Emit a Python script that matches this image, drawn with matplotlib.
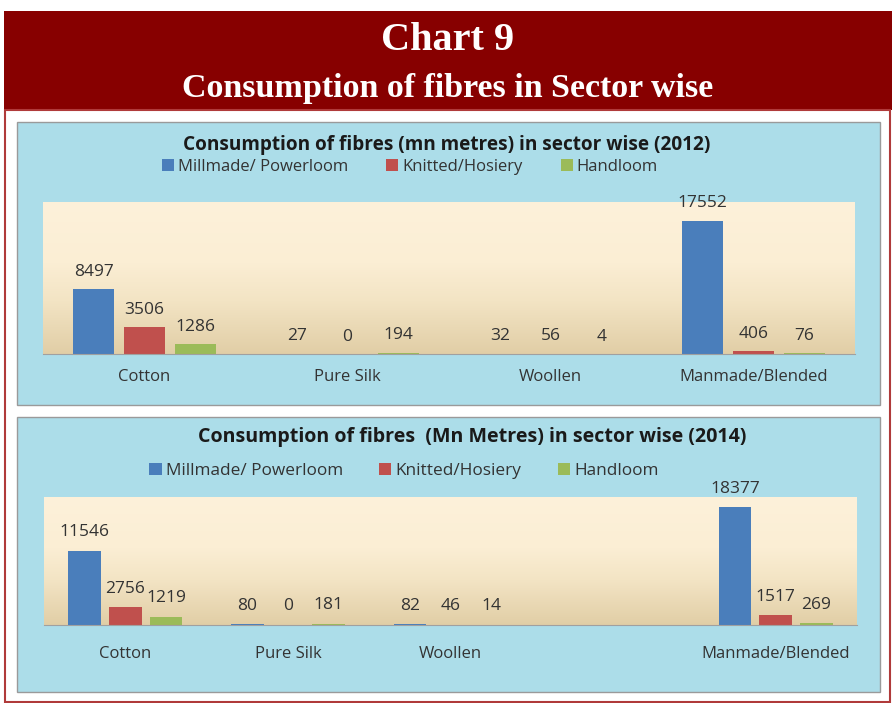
import numpy as np
import matplotlib.pyplot as plt
from matplotlib.patches import Rectangle
from matplotlib.colors import LinearSegmentedColormap

W, H = 892, 703

categories_2012 = ['Cotton', 'Pure Silk', 'Woollen', 'Manmade/Blended']
millmade_2012 = [8497, 27, 32, 17552]
knitted_2012 = [3506, 0, 56, 406]
handloom_2012 = [1286, 194, 4, 76]

# the 2014 chart has an empty category slot before Manmade/Blended
categories_2014 = ['Cotton', 'Pure Silk', 'Woollen', '', 'Manmade/Blended']
millmade_2014 = [11546, 80, 82, np.nan, 18377]
knitted_2014 = [2756, 0, 46, np.nan, 1517]
handloom_2014 = [1219, 181, 14, np.nan, 269]

series_names = ['Millmade/ Powerloom', 'Knitted/Hosiery', 'Handloom']
colors = ['#4a7ebb', '#c0504d', '#9bbb59']

plt.rcParams['font.family'] = ['Open Sans', 'DejaVu Sans']
txt_color = '#333333'


def px_box(x0, y0, x1, y1):
    return [x0 / W, 1 - y1 / H, (x1 - x0) / W, (y1 - y0) / H]


def fx(x):
    return x / W


def fy(y):
    return 1 - y / H


cream = LinearSegmentedColormap.from_list(
    'cream', [(0, '#e1cea6'), (0.35, '#f3e4c4'), (0.6, '#fbeed4'), (1, '#fdf1da')])
grad = np.linspace(1, 0, 256).reshape(-1, 1)

fig = plt.figure(figsize=(W / 100, H / 100), dpi=100)

# header band and outer frame
fig.patches.append(Rectangle((fx(4), fy(110)), (888) / W, 99 / H,
                             transform=fig.transFigure, facecolor='#870000',
                             edgecolor='none', zorder=-3))
fig.patches.append(Rectangle((fx(5), fy(702)), 885 / W, 592 / H,
                             transform=fig.transFigure, facecolor='white',
                             edgecolor='#b03a3a', lw=1.5, zorder=-3))
fig.text(fx(448), fy(40), 'Chart 9', color='white', fontsize=29,
         fontweight='bold', family='Liberation Serif', ha='center', va='center')
fig.text(fx(448), fy(88), 'Consumption of fibres in Sector wise', color='white',
         fontsize=24.5, fontweight='bold', family='Liberation Serif',
         ha='center', va='center')


def draw_panel(panel, plot, title, title_pos, title_size, legend_pos, leg_size,
               leg_gap, cats, series, label_off, tick_pad):
    x0, y0, x1, y1 = panel
    fig.patches.append(Rectangle((fx(x0), fy(y1)), (x1 - x0) / W, (y1 - y0) / H,
                                 transform=fig.transFigure, facecolor='#acdde9',
                                 edgecolor='#9a9a9a', lw=1, zorder=-2))
    fig.text(fx(title_pos[0]), fy(title_pos[1]), title, fontsize=title_size,
             fontweight='bold', color='#1a1a1a', ha='center', va='center')

    ax = fig.add_axes(px_box(*plot), zorder=2)
    ax.imshow(grad, extent=[0, 1, 0, 1], transform=ax.transAxes, aspect='auto',
              cmap=cream, zorder=0)
    x = np.arange(len(cats))
    for i, (vals, name, c) in enumerate(zip(series, series_names, colors)):
        pos = x + (i - 1) * 0.25
        ax.bar(pos, vals, width=0.2, color=c, label=name, zorder=2)
        for xi, v in zip(pos, vals):
            if np.isnan(v):
                continue
            ax.annotate(f'{v:.0f}', (xi, v), xytext=(0, label_off),
                        textcoords='offset points', ha='center', va='center',
                        fontsize=12.5, color=txt_color)
    ax.set_xlim(-0.5, len(cats) - 0.5)
    ax.set_ylim(0, 20000)
    ax.set_xticks(x)
    ax.set_xticklabels(cats, fontsize=12, color=txt_color)
    ax.tick_params(axis='x', length=0, pad=tick_pad)
    ax.set_yticks([])
    for s in ['top', 'left', 'right']:
        ax.spines[s].set_visible(False)
    ax.spines['bottom'].set_color('#a0a0a0')
    ax.patch.set_alpha(0)

    leg = ax.legend(loc='center', bbox_to_anchor=(fx(legend_pos[0]), fy(legend_pos[1])),
                    bbox_transform=fig.transFigure, ncol=3, frameon=False,
                    handlelength=0.7, handleheight=0.7, handletextpad=0.25,
                    columnspacing=leg_gap, fontsize=leg_size)
    for t in leg.get_texts():
        t.set_color(txt_color)
    return ax


draw_panel((17, 122, 880, 405), (43, 202, 855, 354),
           'Consumption of fibres (mn metres) in sector wise (2012)', (447, 145), 13.7,
           (410, 167), 12, 2.3, categories_2012,
           [millmade_2012, knitted_2012, handloom_2012], 12.5, 11)

draw_panel((17, 417, 880, 692), (44, 497, 857, 625),
           'Consumption of fibres  (Mn Metres) in sector wise (2014)', (472, 437), 14.1,
           (404, 471), 12.4, 2.1, categories_2014,
           [millmade_2014, knitted_2014, handloom_2014], 13.5, 15)

fig.savefig('out.png', dpi=100)
